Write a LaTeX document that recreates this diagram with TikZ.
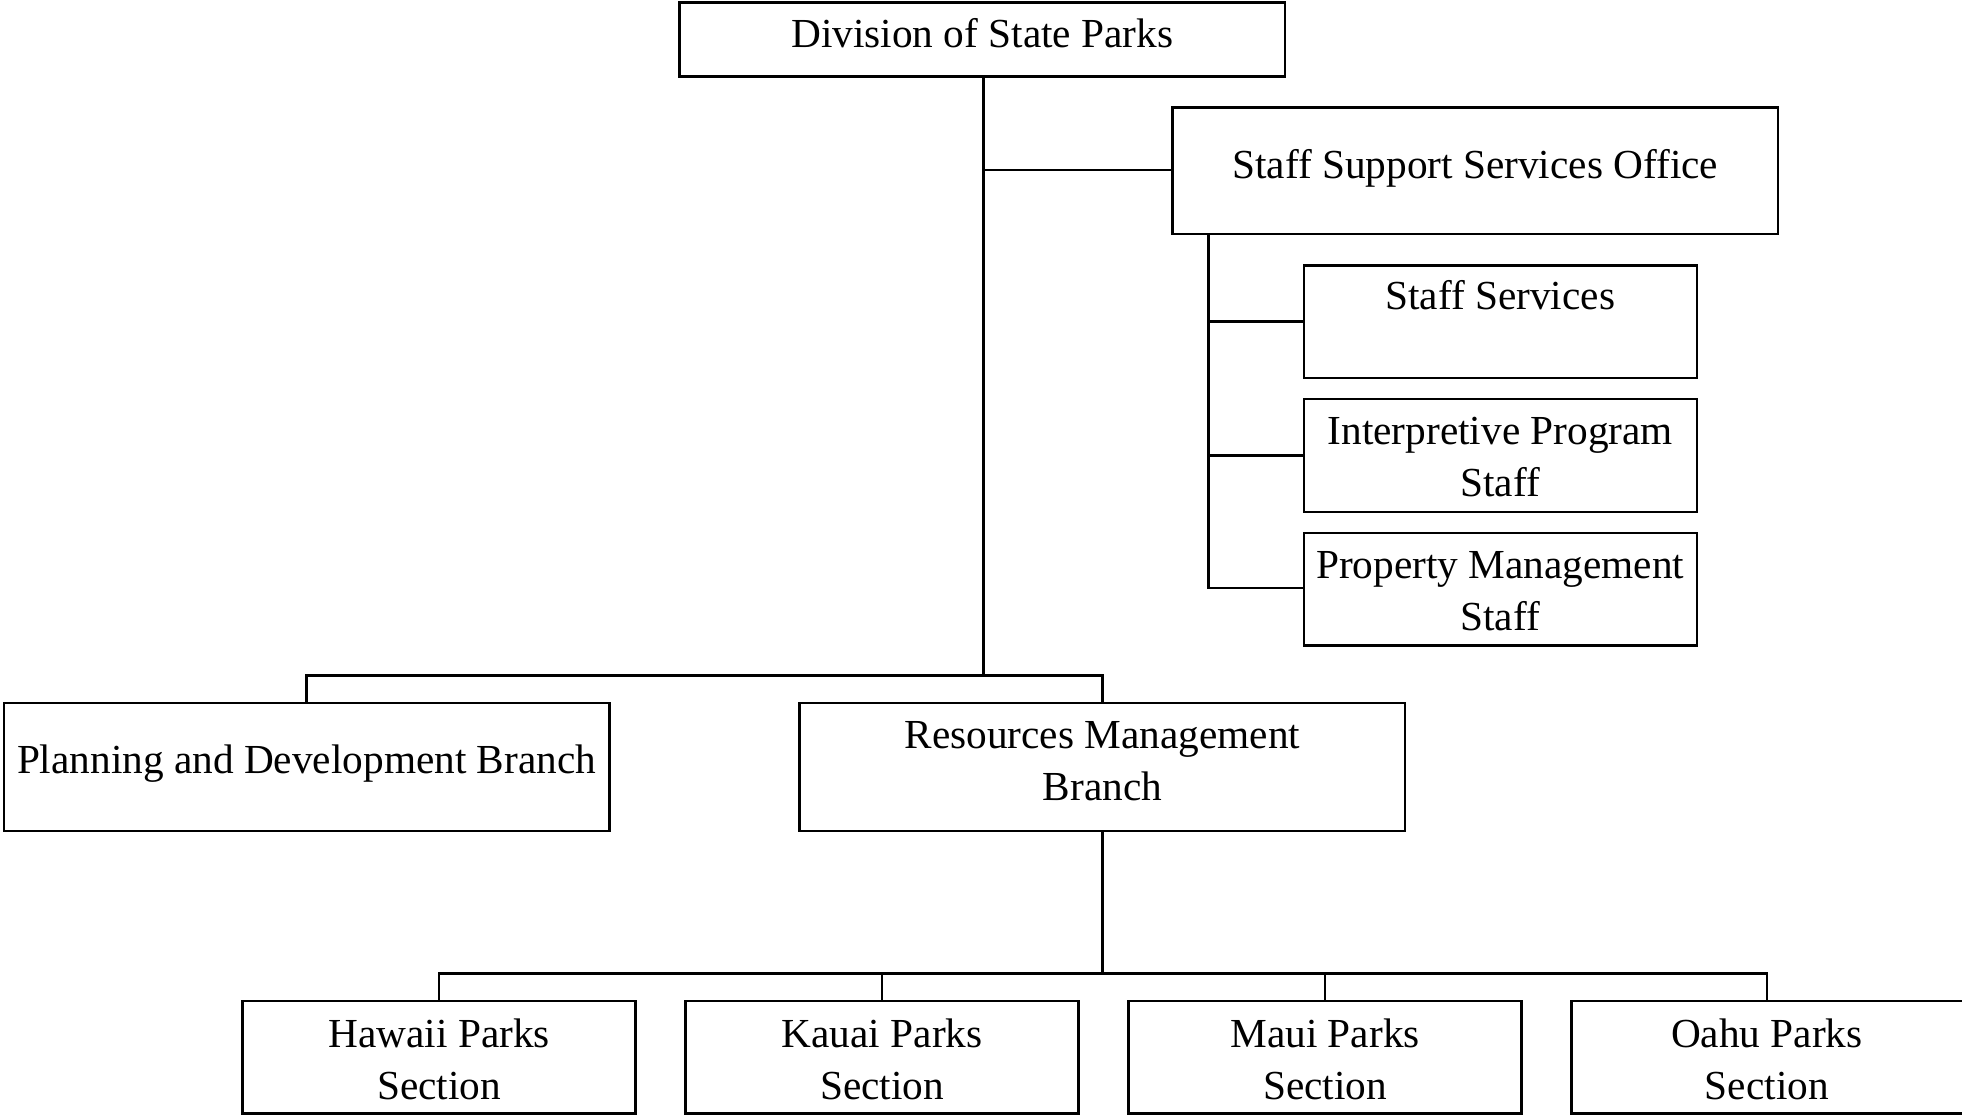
\documentclass[tikz,border=0pt]{standalone}
\usepackage{fontspec}
\setmainfont{Liberation Serif}
\usetikzlibrary{fit}
\tikzset{
  box/.style={draw, line width=1pt, inner sep=0pt},
  txt/.style={anchor=base, inner sep=0pt, font=\fontsize{16.5pt}{21pt}\selectfont},
  conn/.style={line width=1pt}
}
\begin{document}
\begin{tikzpicture}[x=0.5pt,y=-0.5pt]
\useasboundingbox (0,0) rectangle (1568,892);
% boxes
\node[box, fit={(543,2)(1027,61)}] (top) {};
\node[box, fit={(937,86)(1421,187)}] (ssso) {};
\node[box, fit={(1042,212)(1356,302)}] (ss) {};
\node[box, fit={(1042,319)(1356,409)}] (ips) {};
\node[box, fit={(1042,426)(1356,516)}] (pms) {};
\node[box, fit={(3,562)(487,664)}] (pdb) {};
\node[box, fit={(639,562)(1123,664)}] (rmb) {};
\node[box, fit={(194,800)(508,890)}] (haw) {};
\node[box, fit={(548,800)(862,890)}] (kau) {};
\node[box, fit={(902,800)(1216,890)}] (mau) {};
\node[box, fit={(1256,800)(1575,890)}] (oah) {};
% texts
\node[txt] at (785,38) {Division of State Parks};
\node[txt] at (1179,143) {Staff Support Services Office};
\node[txt] at (1199,247) {Staff Services};
\node[txt] at (1199,355) {Interpretive Program};
\node[txt] at (1199,397) {Staff};
\node[txt] at (1199,462) {Property Management};
\node[txt] at (1199,504) {Staff};
\node[txt] at (245,618) {Planning and Development Branch};
\node[txt] at (881,598) {Resources Management};
\node[txt] at (881,640) {Branch};
\node[txt] at (351,837) {Hawaii Parks};
\node[txt] at (351,879) {Section};
\node[txt] at (705,837) {Kauai Parks};
\node[txt] at (705,879) {Section};
\node[txt] at (1059,837) {Maui Parks};
\node[txt] at (1059,879) {Section};
\node[txt] at (1412,837) {Oahu Parks};
\node[txt] at (1412,879) {Section};
% junction coordinates
\coordinate (j1) at (786,136);
\coordinate (j2) at (786,540);
\coordinate (s0) at (966,470);
\coordinate (b0) at (881,778);
% connectors
\draw[conn] (top.south -| j1) -- (j2);
\draw[conn] (j1) -- (ssso.west |- j1);
\draw[conn] (ssso.south -| s0) -- (s0) -- (pms.west |- s0);
\draw[conn] (s0 |- ss.west) -- (ss.west);
\draw[conn] (s0 |- ips.west) -- (ips.west);
\draw[conn] (pdb.north) -- (pdb.north |- j2) -- (rmb.north |- j2) -- (rmb.north);
\draw[conn] (rmb.south) -- (b0);
\draw[conn] (haw.north) -- (haw.north |- b0) -- (b0 -| 1412,0) -- (1412,800);
\draw[conn] (kau.north) -- (kau.north |- b0);
\draw[conn] (mau.north) -- (mau.north |- b0);
\end{tikzpicture}
\end{document}
